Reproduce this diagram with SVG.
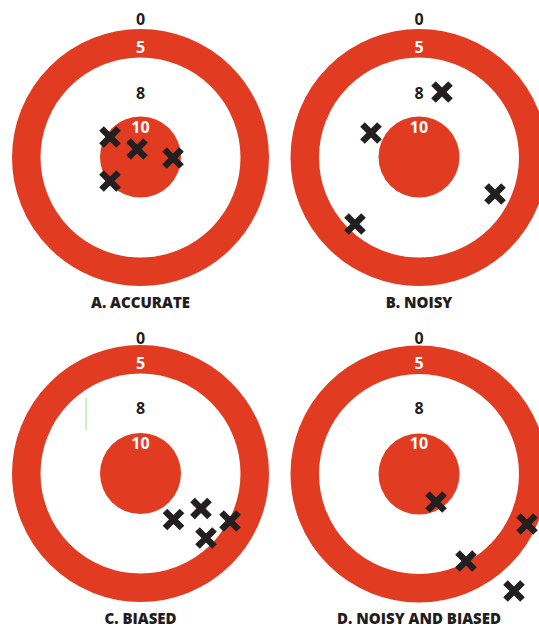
<svg xmlns="http://www.w3.org/2000/svg" width="539" height="626" viewBox="0 0 539 626">
<style>
.ring{fill:none;stroke:#e13b21;stroke-width:28.5}
.bull{fill:#e13b21}
.num{font-family:"Open Sans","Liberation Sans",sans-serif;font-weight:700;font-size:16px;text-anchor:middle;fill:#1f1d1e}
.w{fill:#ffffff}
.lab{font-family:"Open Sans","Liberation Sans",sans-serif;font-weight:800;font-size:15px;text-anchor:middle;fill:#1f1d1e}
.x{fill:none;stroke:#231f20;stroke-width:6.5}
</style>
<defs>
<path id="cross" class="x" d="M-8.5,-8.5 L8.5,8.5 M8.5,-8.5 L-8.5,8.5"/>
</defs>
<rect width="539" height="626" fill="#ffffff"/>
<g id="target-a">
<circle class="ring" cx="140.5" cy="157.5" r="114.25"/>
<circle class="bull" cx="140.5" cy="157" r="40.5"/>
<text class="num" x="140.5" y="24.5">0</text>
<text class="num w" x="140.5" y="52.5">5</text>
<text class="num" x="140.5" y="98.5">8</text>
<text class="num w" x="140.5" y="132.5">10</text>
<use href="#cross" x="110" y="137"/>
<use href="#cross" x="137" y="149"/>
<use href="#cross" x="173" y="158"/>
<use href="#cross" x="110" y="181"/>
<text class="lab" x="140.5" y="307.5">A. ACCURATE</text>
</g>
<g id="target-b">
<circle class="ring" cx="419" cy="157.5" r="114.25"/>
<circle class="bull" cx="419" cy="157" r="40.5"/>
<text class="num" x="419" y="24.5">0</text>
<text class="num w" x="419" y="52.5">5</text>
<text class="num" x="419" y="98.5">8</text>
<text class="num w" x="419" y="132.5">10</text>
<use href="#cross" x="442" y="92"/>
<use href="#cross" x="371" y="133"/>
<use href="#cross" x="495" y="194"/>
<use href="#cross" x="355" y="224"/>
<text class="lab" x="419" y="307.5">B. NOISY</text>
</g>
<g id="target-c">
<circle class="ring" cx="140.5" cy="473.5" r="114.25"/>
<circle class="bull" cx="140.5" cy="473.5" r="40.5"/>
<text class="num" x="140.5" y="343.5">0</text>
<text class="num w" x="140.5" y="368.5">5</text>
<text class="num" x="140.5" y="413.5">8</text>
<text class="num w" x="140.5" y="448.5">10</text>
<line x1="86" y1="398" x2="86" y2="430" stroke="#9be08f" stroke-width="1"/>
<use href="#cross" x="173.5" y="519.5"/>
<use href="#cross" x="201" y="508.5"/>
<use href="#cross" x="230" y="521"/>
<use href="#cross" x="206" y="538"/>
<text class="lab" x="140.5" y="623.5">C. BIASED</text>
</g>
<g id="target-d">
<circle class="ring" cx="419" cy="474" r="114.25"/>
<circle class="bull" cx="419" cy="474" r="40.5"/>
<text class="num" x="419" y="343.5">0</text>
<text class="num w" x="419" y="368.5">5</text>
<text class="num" x="419" y="413.5">8</text>
<text class="num w" x="419" y="448.5">10</text>
<use href="#cross" x="436" y="502"/>
<use href="#cross" x="527" y="524"/>
<use href="#cross" x="466" y="561"/>
<use href="#cross" x="514" y="591"/>
<text class="lab" x="419" y="623.5">D. NOISY AND BIASED</text>
</g>
</svg>
